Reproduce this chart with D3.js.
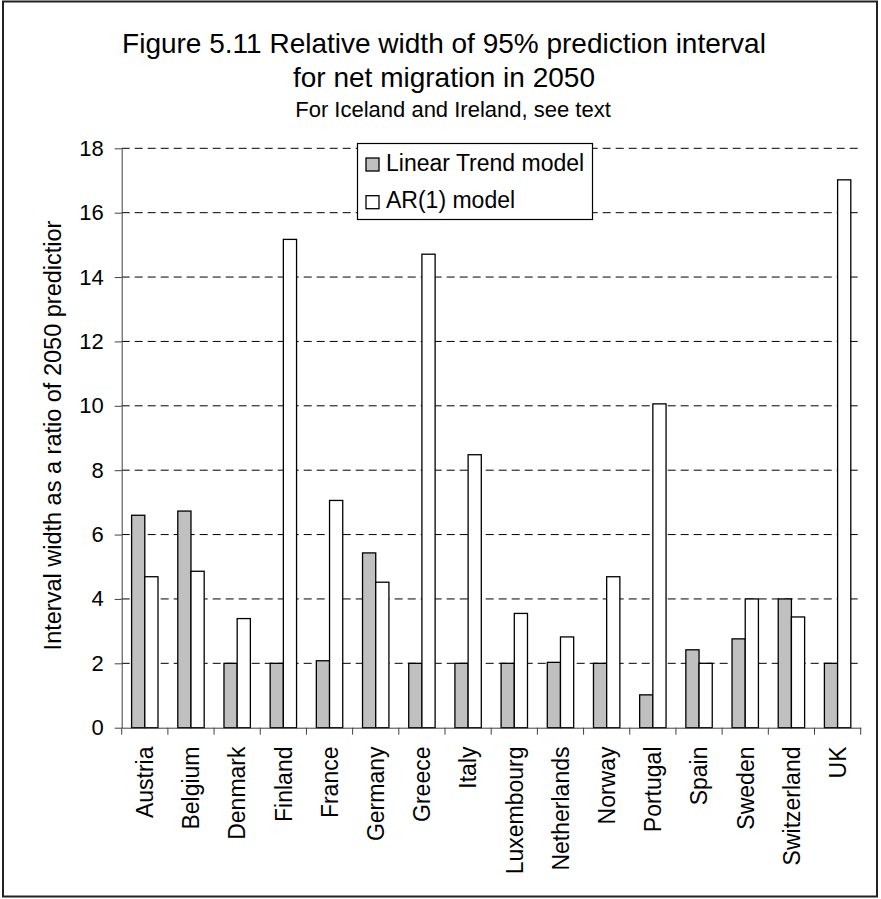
<!DOCTYPE html>
<html>
<head>
<meta charset="utf-8">
<script src="https://cdn.jsdelivr.net/npm/d3@7"></script>
<style>
  html, body { margin: 0; padding: 0; background: #fff; }
  svg { display: block; font-family: "Liberation Sans", Arial, sans-serif; }
</style>
</head>
<body>
<svg id="chart" width="881" height="899"></svg>
<script>
const categories = ["Austria","Belgium","Denmark","Finland","France","Germany","Greece","Italy",
  "Luxembourg","Netherlands","Norway","Portugal","Spain","Sweden","Switzerland","UK"];
const seriesNames = ["Linear Trend model", "AR(1) model"];
const linearTrend = [6.6, 6.73, 2.0, 2.0, 2.08, 5.43, 2.0, 2.0, 2.0, 2.03, 2.0, 1.02, 2.42, 2.76, 4.0, 2.0];
const ar1 = [4.69, 4.86, 3.39, 15.17, 7.06, 4.52, 14.71, 8.48, 3.55, 2.82, 4.69, 10.06, 2.0, 4.0, 3.44, 17.02];
const yTicks = [0, 2, 4, 6, 8, 10, 12, 14, 16, 18];
const titleLines = ["Figure 5.11 Relative width of 95% prediction interval", "for net migration in 2050"];
const subtitle = "For Iceland and Ireland, see text";
const yTitle = "Interval width as a ratio of 2050 predictior";
const fills = ["#C0C0C0", "#FFFFFF"];

const data = categories.map((c, i) => ({ cat: c, vals: [linearTrend[i], ar1[i]] }));

const svg = d3.select("#chart");
const L = 121.7, R = 860.7, T = 148.3, B = 727.7;

// outer frame
svg.append("rect").attr("x", 3).attr("y", 1.5).attr("width", 874).attr("height", 895)
  .attr("fill", "none").attr("stroke", "#222").attr("stroke-width", 2);

const x = d3.scaleBand().domain(categories).range([L, R]).padding(0);
const x1 = d3.scaleBand().domain([0, 1]).range([0, x.bandwidth()]).paddingInner(0).paddingOuter(0.75);
const y = d3.scaleLinear().domain([0, 18]).range([B, T]);

// gridlines
svg.append("g").selectAll("line").data(yTicks.filter(d => d > 0)).join("line")
  .attr("x1", L).attr("x2", R).attr("y1", d => y(d)).attr("y2", d => y(d))
  .attr("stroke", "#000").attr("stroke-width", 1).attr("stroke-dasharray", "8,5");

// bars
const groups = svg.append("g").selectAll("g").data(data).join("g")
  .attr("transform", d => `translate(${x(d.cat)},0)`);
groups.selectAll("rect").data(d => d.vals.map((v, k) => ({ v, k }))).join("rect")
  .attr("x", d => x1(d.k)).attr("width", x1.bandwidth())
  .attr("y", d => y(d.v)).attr("height", d => y(0) - y(d.v))
  .attr("fill", d => fills[d.k]).attr("stroke", "#000").attr("stroke-width", 1.3);

// y axis
const yAxis = svg.append("g").attr("transform", `translate(${L},0)`)
  .call(d3.axisLeft(y).tickValues(yTicks).tickSize(7).tickSizeOuter(0).tickPadding(11));
yAxis.select(".domain").attr("stroke", "#404040");
yAxis.selectAll(".tick line").attr("stroke", "#404040");
yAxis.selectAll(".tick text").attr("font-size", 22).attr("fill", "#000")
  .attr("font-family", "'Liberation Sans', Arial, sans-serif");

// x axis
const xAxis = svg.append("g").attr("transform", `translate(0,${B})`)
  .call(d3.axisBottom(x).tickSize(0).tickSizeOuter(0).tickFormat(""));
xAxis.select(".domain").attr("stroke", "#404040");
xAxis.selectAll(".tick").remove();
const boundaries = categories.map(c => x(c)).concat([x(categories[categories.length - 1]) + x.bandwidth()]);
xAxis.append("g").selectAll("line").data(boundaries).join("line")
  .attr("x1", d => d).attr("x2", d => d).attr("y1", 0).attr("y2", 7)
  .attr("stroke", "#404040");
svg.append("g").selectAll("text").data(categories).join("text")
  .attr("transform", d => `translate(${x(d) + x.bandwidth() / 2},746.5) rotate(-90)`)
  .attr("text-anchor", "end").attr("dy", "0.36em")
  .attr("font-size", 23).attr("fill", "#000").text(d => d);

// y title
svg.append("text").attr("transform", "translate(61,435.5) rotate(-90)")
  .attr("text-anchor", "middle").attr("font-size", 23.5).attr("fill", "#000").text(yTitle);

// titles
svg.append("g").selectAll("text").data(titleLines).join("text")
  .attr("x", 444).attr("y", (d, i) => 52.7 + i * 34).attr("text-anchor", "middle")
  .attr("font-size", 28).attr("fill", "#000").text(d => d);
svg.append("text").attr("x", 453).attr("y", 116.5).attr("text-anchor", "middle")
  .attr("font-size", 22).attr("fill", "#000").text(subtitle);

// legend
const lg = svg.append("g");
lg.append("rect").attr("x", 357.5).attr("y", 143.5).attr("width", 235).attr("height", 76)
  .attr("fill", "#fff").attr("stroke", "#000").attr("stroke-width", 1.2);
const items = lg.selectAll("g").data(seriesNames).join("g")
  .attr("transform", (d, i) => `translate(0,${i * 37.7})`);
items.append("rect").attr("x", 366).attr("y", 158).attr("width", 13).attr("height", 13)
  .attr("fill", (d, i) => fills[i]).attr("stroke", "#000").attr("stroke-width", 1.3);
items.append("text").attr("x", 386).attr("y", 170.5).attr("font-size", 23)
  .attr("fill", "#000").text(d => d);
</script>
</body>
</html>
